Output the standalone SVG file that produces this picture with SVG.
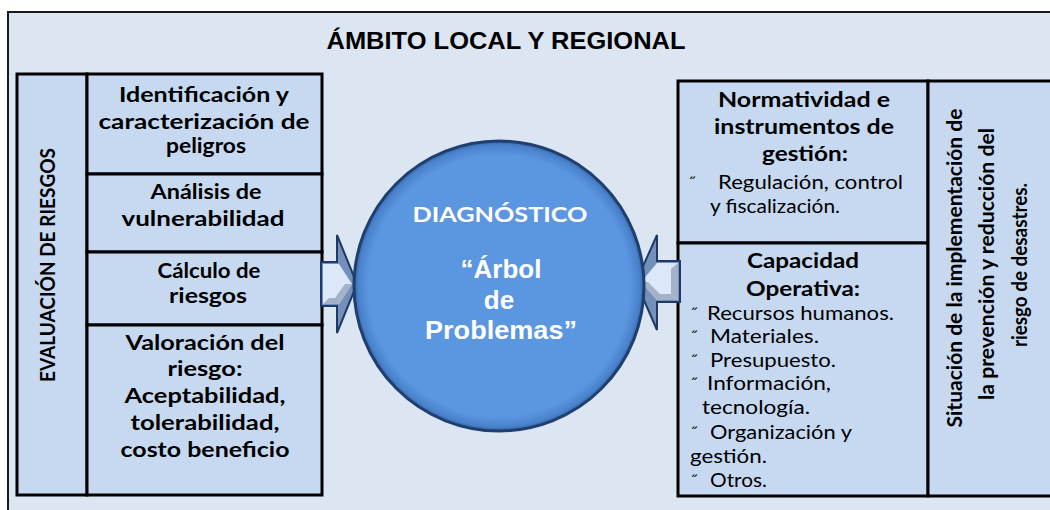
<svg xmlns="http://www.w3.org/2000/svg" width="1050" height="510" viewBox="0 0 1050 510">
<style>
.cell{fill:#C6D9F0;stroke:#000;stroke-width:3}
.b{font-family:Lato,"Open Sans",sans-serif;font-weight:bold;font-size:21px;fill:#000}
.c{text-anchor:middle}
.r{font-family:Lato,"Open Sans",sans-serif;font-size:19.5px;fill:#000}
.bul{font-family:Lato,"Open Sans",sans-serif;font-size:18px;fill:#000}
.w{font-family:"Liberation Sans",Arial,sans-serif;font-weight:bold;font-size:26px;fill:#fff;text-anchor:middle}
.arrow{fill:#7390BA;stroke:#1E3A66;stroke-width:2;stroke-linejoin:miter}
.face{fill:#DCE8FA}
.shade{fill:#A3B2C6}
</style>
<defs>
<radialGradient id="circ" cx="0.5" cy="0.5" r="0.5">
<stop offset="0.9" stop-color="#5B97E0"/>
<stop offset="0.97" stop-color="#4A82CC"/>
<stop offset="1" stop-color="#3567A8"/>
</radialGradient>
</defs>
<rect width="1050" height="510" fill="#fff"/>
<g id="frame">
<rect x="8" y="12" width="1080" height="540" fill="#DCE6F2" stroke="#1a1a1a" stroke-width="2"/>
</g>
<g id="title">
<text x="506" y="49" font-family="'Liberation Sans',Arial,sans-serif" font-weight="bold" font-size="24" text-anchor="middle" textLength="359" lengthAdjust="spacingAndGlyphs">ÁMBITO LOCAL Y REGIONAL</text>
</g>
<g id="evaluacion">
<rect class="cell" x="17" y="74" width="70" height="421"/>
<text class="b c" transform="rotate(-90 55 265)" x="55" y="265" textLength="234" lengthAdjust="spacingAndGlyphs">EVALUACIÓN DE RIESGOS</text>
</g>
<g id="identificacion">
<rect class="cell" x="87" y="74" width="235" height="100"/>
<text class="b c" x="204" y="102" textLength="170" lengthAdjust="spacingAndGlyphs">Identificación y</text>
<text class="b c" x="204" y="129" textLength="211" lengthAdjust="spacingAndGlyphs">caracterización de</text>
<text class="b c" x="206" y="153" textLength="80" lengthAdjust="spacingAndGlyphs">peligros</text>
</g>
<g id="analisis">
<rect class="cell" x="87" y="174" width="235" height="78"/>
<text class="b c" x="206" y="199" textLength="111" lengthAdjust="spacingAndGlyphs">Análisis de</text>
<text class="b c" x="203" y="226" textLength="163" lengthAdjust="spacingAndGlyphs">vulnerabilidad</text>
</g>
<g id="calculo">
<rect class="cell" x="87" y="252" width="235" height="73"/>
<text class="b c" x="209" y="278" textLength="103" lengthAdjust="spacingAndGlyphs">Cálculo de</text>
<text class="b c" x="208" y="303" textLength="78" lengthAdjust="spacingAndGlyphs">riesgos</text>
</g>
<g id="valoracion">
<rect class="cell" x="87" y="325" width="235" height="170"/>
<text class="b c" x="205" y="350" textLength="159" lengthAdjust="spacingAndGlyphs">Valoración del</text>
<text class="b c" x="205" y="376" textLength="75" lengthAdjust="spacingAndGlyphs">riesgo:</text>
<text class="b c" x="205" y="403" textLength="161" lengthAdjust="spacingAndGlyphs">Aceptabilidad,</text>
<text class="b c" x="205" y="430" textLength="149" lengthAdjust="spacingAndGlyphs">tolerabilidad,</text>
<text class="b c" x="205" y="457" textLength="169" lengthAdjust="spacingAndGlyphs">costo beneficio</text>
</g>
<g id="normatividad">
<rect class="cell" x="678" y="81" width="250" height="162"/>
<text class="b c" x="804" y="107" textLength="172" lengthAdjust="spacingAndGlyphs">Normatividad e</text>
<text class="b c" x="804" y="134" textLength="180" lengthAdjust="spacingAndGlyphs">instrumentos de</text>
<text class="b c" x="805" y="161" textLength="86" lengthAdjust="spacingAndGlyphs">gestión:</text>
<text class="bul" x="688" y="189">˝</text>
<text class="r" x="718" y="189" textLength="185" lengthAdjust="spacingAndGlyphs">Regulación, control</text>
<text class="r" x="710" y="213" textLength="130" lengthAdjust="spacingAndGlyphs">y fiscalización.</text>
</g>
<g id="capacidad">
<rect class="cell" x="678" y="243" width="250" height="253"/>
<text class="b c" x="803" y="268" textLength="112" lengthAdjust="spacingAndGlyphs">Capacidad</text>
<text class="b c" x="803" y="296" textLength="114" lengthAdjust="spacingAndGlyphs">Operativa:</text>
<text class="bul" x="690" y="320">˝</text>
<text class="r" x="707" y="320" textLength="187" lengthAdjust="spacingAndGlyphs">Recursos humanos.</text>
<text class="bul" x="690" y="343">˝</text>
<text class="r" x="710" y="343" textLength="109" lengthAdjust="spacingAndGlyphs">Materiales.</text>
<text class="bul" x="690" y="367">˝</text>
<text class="r" x="710" y="367" textLength="126" lengthAdjust="spacingAndGlyphs">Presupuesto.</text>
<text class="bul" x="690" y="390">˝</text>
<text class="r" x="707" y="390" textLength="124" lengthAdjust="spacingAndGlyphs">Información,</text>
<text class="r" x="702" y="414" textLength="108" lengthAdjust="spacingAndGlyphs">tecnología.</text>
<text class="bul" x="690" y="439">˝</text>
<text class="r" x="710" y="439" textLength="142" lengthAdjust="spacingAndGlyphs">Organización y</text>
<text class="r" x="690" y="463" textLength="77" lengthAdjust="spacingAndGlyphs">gestión.</text>
<text class="bul" x="690" y="487">˝</text>
<text class="r" x="710" y="487" textLength="57" lengthAdjust="spacingAndGlyphs">Otros.</text>
</g>
<g id="situacion">
<rect class="cell" x="928" y="81" width="160" height="415"/>
<text class="b c" transform="rotate(-90 962 268)" x="962" y="268" textLength="319" lengthAdjust="spacingAndGlyphs">Situación de la implementación de</text>
<text class="b c" transform="rotate(-90 994 264)" x="994" y="264" textLength="272" lengthAdjust="spacingAndGlyphs">la prevención y reducción del</text>
<text class="b c" transform="rotate(-90 1027 265)" x="1027" y="265" textLength="164" lengthAdjust="spacingAndGlyphs">riesgo de desastres.</text>
</g>
<g id="connectors">
<polygon class="arrow" points="321,262 337,262 337,235 357,284 337,333 337,306 321,306"/>
<polygon class="face" points="323,264 339,264 352,284 339,304 323,304"/>
<polygon class="shade" points="323,304 339,304 352,284 345,284 335,298 329,298 323,304"/>
<polygon class="arrow" points="680,261 657,261 657,235 636,282 657,330 657,302 680,302"/>
<polygon class="face" points="678,263 657,263 641,282 657,300 678,300"/>
<polygon class="shade" points="678,263 678,300 671,294 671,269"/>
<polygon class="shade" points="641,282 657,300 678,300 671,294 660,294 648,282"/>
</g>
<g id="diagnostico">
<circle cx="499" cy="286" r="145" fill="url(#circ)" stroke="#1F3F6E" stroke-width="3"/>
<text x="500" y="222" font-family="Lato,'Open Sans',sans-serif" font-weight="bold" font-size="21" fill="#fff" text-anchor="middle" textLength="175" lengthAdjust="spacingAndGlyphs">DIAGNÓSTICO</text>
<text class="w" x="501" y="278">“Árbol</text>
<text class="w" x="499" y="309">de</text>
<text class="w" x="501" y="339" textLength="152" lengthAdjust="spacingAndGlyphs">Problemas”</text>
</g>
</svg>
